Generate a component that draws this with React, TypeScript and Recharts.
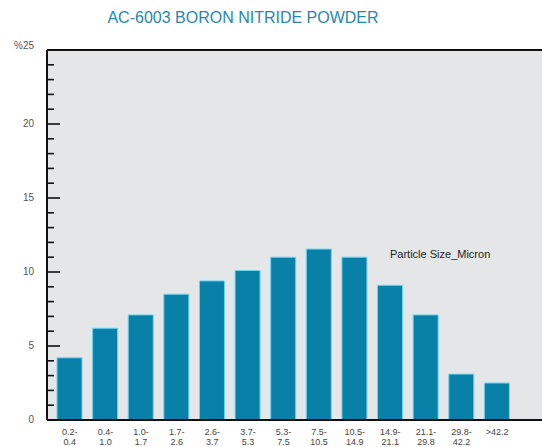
import {Bar, BarChart, ReferenceLine, XAxis, YAxis} from "recharts";

const sizeFrom = ["0.2-", "0.4-", "1.0-", "1.7-", "2.6-", "3.7-", "5.3-", "7.5-", "10.5-", "14.9-", "21.1-", "29.8-", ">42.2"];
const sizeTo = ["0.4", "1.0", "1.7", "2.6", "3.7", "5.3", "7.5", "10.5", "14.9", "21.1", "29.8", "42.2", ""];
const percents = [4.2, 6.2, 7.1, 8.5, 9.4, 10.1, 11.0, 11.55, 11.0, 9.1, 7.1, 3.1, 2.5];
const yTicks = Array.from({length: 26}, (_, i) => i);

const data = sizeFrom.map((from, i) => ({
  name: from + sizeTo[i],
  from,
  to: sizeTo[i],
  value: percents[i],
}));

const FONT = "'Liberation Sans Narrow', 'Liberation Sans', Arial, sans-serif";

function YTick(props: any) {
  const {x, y, payload} = props;
  const v = payload.value as number;
  const major = v % 5 === 0;
  return (
    <g>
      {v > 0 && v < 25 && (
        <line x1={x} x2={x + (major ? 13 : 7)} y1={y} y2={y} stroke="#111" strokeWidth={1.6} />
      )}
      {major && (
        <text x={x - 13} y={y} dy={v === 25 ? -1 : 3} textAnchor="end" fontSize={10} fill="#555" fontFamily={FONT}>
          {v === 25 ? "%25" : v}
        </text>
      )}
    </g>
  );
}

function XTick(props: any) {
  const {x, index} = props;
  const d = data[index];
  // etiquetas en dos lineas, la segunda pegada al borde inferior
  return (
    <g>
      <text x={x} y={435} textAnchor="middle" fontSize={9} fill="#444" fontFamily={FONT}>
        {d.from}
      </text>
      {d.to && (
        <text x={x} y={445} textAnchor="middle" fontSize={9} fill="#444" fontFamily={FONT}>
          {d.to}
        </text>
      )}
    </g>
  );
}

export default function App() {
  return (
    <div style={{position: "fixed", left: 0, top: 0, width: 542, height: 447, overflow: "hidden", background: "#fff"}}>
      {/* fondo gris del area de trazado */}
      <div style={{position: "absolute", left: 47, top: 50, width: 495, height: 370, background: "#e5e6e7"}} />
      <div
        style={{
          position: "absolute",
          left: 0,
          width: 486,
          top: 9,
          textAlign: "center",
          fontFamily: FONT,
          fontSize: 16,
          color: "#2a86b0",
        }}
      >
        AC-6003 BORON NITRIDE POWDER
      </div>
      <BarChart width={542} height={447} data={data} margin={{top: 50, right: 0, bottom: 0, left: 0}}>
        <XAxis
          dataKey="name"
          interval={0}
          padding={{left: 5, right: 27}}
          tickLine={false}
          tickSize={0}
          axisLine={{stroke: "#111", strokeWidth: 2}}
          tick={<XTick />}
          height={27}
        />
        <YAxis
          domain={[0, 25]}
          ticks={yTicks}
          interval={0}
          width={47}
          tickSize={0}
          tickMargin={0}
          tickLine={false}
          axisLine={{stroke: "#111", strokeWidth: 2}}
          tick={<YTick />}
        />
        <ReferenceLine y={25} stroke="#111" strokeWidth={2} />
        <Bar dataKey="value" fill="#0880a8" stroke="#6fd3f2" strokeWidth={1} barSize={25} isAnimationActive={false} />
      </BarChart>
      <div
        style={{
          position: "absolute",
          left: 390,
          top: 248,
          fontFamily: FONT,
          fontSize: 11,
          color: "#222",
        }}
      >
        Particle Size_Micron
      </div>
    </div>
  );
}
